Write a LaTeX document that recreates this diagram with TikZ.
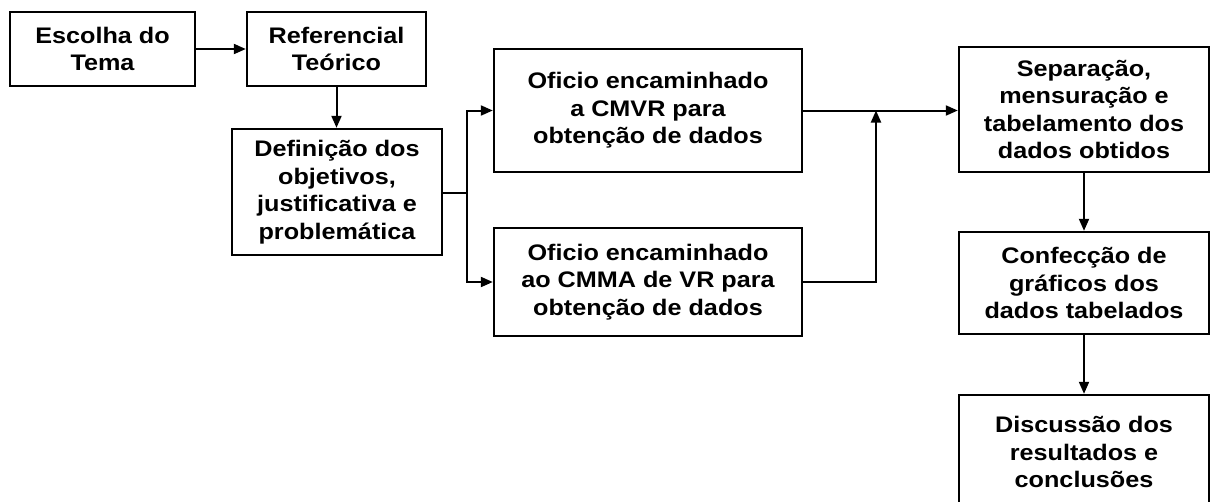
\documentclass[tikz,border=0pt]{standalone}
\usepackage{fontspec}
\setmainfont{Liberation Sans}[FakeStretch=1.12]
\usetikzlibrary{arrows.meta}
\begin{document}
\begin{tikzpicture}[x=1pt,y=-1pt,
 box/.style={draw, line width=2.4pt, align=center, font=\fontsize{22.5}{27.5}\selectfont\bfseries, inner sep=0pt},
 conn/.style={line width=2pt, -{Triangle[length=12pt,width=10pt]}},
 plain/.style={line width=2pt}]
\useasboundingbox (0,0) rectangle (1210,501);
\clip (0,0) rectangle (1210,501);
\node[box, minimum width=185, minimum height=74] (tema) at (102.5,49) {Escolha do\\Tema};
\node[box, minimum width=179, minimum height=74] (ref) at (336.5,49) {Referencial\\Teórico};
\node[box, minimum width=210, minimum height=126] (def) at (337,192) {Definição dos\\objetivos,\\justificativa e\\problemática};
\node[box, minimum width=308, minimum height=123] (of1) at (648,110.5) {Oficio encaminhado\\a CMVR para\\obtenção de dados};
\node[box, minimum width=308, minimum height=108] (of2) at (648,282) {Oficio encaminhado\\ao CMMA de VR para\\obtenção de dados};
\node[box, minimum width=250, minimum height=125] (sep) at (1084,109.5) {Separação,\\mensuração e\\tabelamento dos\\dados obtidos};
\node[box, minimum width=250, minimum height=102] (conf) at (1084,283) {Confecção de\\gráficos dos\\dados tabelados};
\node[box, minimum width=250, minimum height=114] (disc) at (1084,452) {Discussão dos\\resultados e\\conclusões};
\draw[conn] (tema) -- (ref);
\draw[conn] (ref.south) -- (ref.south |- def.north);
\coordinate (br) at (467,193);
\draw[plain] (def.east |- br) -- (br);
\draw[conn] (br) |- (of1.west);
\draw[conn] (br) |- (of2.west);
\draw[conn] (of1.east) -- (of1.east -| sep.west);
\coordinate (jn) at (876,110.5);
\draw[conn] (of2.east) -| (jn);
\draw[conn] (sep.south) -- (conf.north);
\draw[conn] (conf.south) -- (disc.north);
\end{tikzpicture}
\end{document}
